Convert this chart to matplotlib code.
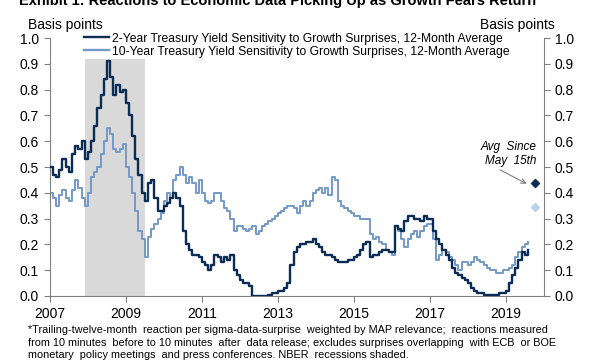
import pandas as pd
import matplotlib.pyplot as plt

plt.rcParams['font.family'] = ['Liberation Sans', 'DejaVu Sans']

# 月度数据，2007年1月起
months = pd.date_range('2007-01-01', periods=152, freq='MS')

sens_2y = [
    0.50, 0.47, 0.46, 0.49, 0.53, 0.50, 0.48, 0.55, 0.58, 0.57, 0.60, 0.53,  # 2007
    0.56, 0.60, 0.66, 0.73, 0.78, 0.84, 0.91, 0.85, 0.78, 0.82, 0.79, 0.80,  # 2008
    0.75, 0.70, 0.62, 0.53, 0.47, 0.40, 0.37, 0.44, 0.45, 0.38, 0.33, 0.33,  # 2009
    0.35, 0.36, 0.38, 0.40, 0.38, 0.35, 0.25, 0.20, 0.18, 0.16, 0.16, 0.15,  # 2010
    0.13, 0.12, 0.10, 0.12, 0.16, 0.15, 0.13, 0.15, 0.14, 0.16, 0.10, 0.08,  # 2011
    0.06, 0.05, 0.05, 0.04, 0.00, 0.00, 0.00, 0.00, 0.00, 0.005, 0.01, 0.01,  # 2012
    0.02, 0.02, 0.03, 0.05, 0.12, 0.17, 0.19, 0.20, 0.20, 0.21, 0.21, 0.22,  # 2013
    0.20, 0.19, 0.17, 0.16, 0.16, 0.15, 0.14, 0.13, 0.13, 0.13, 0.14, 0.14,  # 2014
    0.15, 0.16, 0.18, 0.20, 0.21, 0.15, 0.16, 0.16, 0.17, 0.18, 0.18, 0.17,  # 2015
    0.17, 0.27, 0.26, 0.25, 0.29, 0.31, 0.31, 0.30, 0.30, 0.29, 0.31, 0.30,  # 2016
    0.30, 0.25, 0.22, 0.20, 0.18, 0.16, 0.14, 0.11, 0.09, 0.08, 0.07, 0.06,  # 2017
    0.05, 0.03, 0.02, 0.01, 0.01, 0.005, 0.005, 0.005, 0.005, 0.005, 0.01, 0.01,  # 2018
    0.02, 0.05, 0.08, 0.11, 0.14, 0.17, 0.16, 0.18,  # 2019
]

sens_10y = [
    0.40, 0.38, 0.35, 0.39, 0.41, 0.38, 0.37, 0.41, 0.45, 0.42, 0.38, 0.35,  # 2007
    0.40, 0.46, 0.48, 0.50, 0.55, 0.60, 0.65, 0.63, 0.57, 0.56, 0.57, 0.59,  # 2008
    0.50, 0.46, 0.40, 0.33, 0.25, 0.22, 0.15, 0.23, 0.26, 0.28, 0.30, 0.32,  # 2009
    0.37, 0.40, 0.38, 0.45, 0.47, 0.50, 0.47, 0.44, 0.46, 0.44, 0.40, 0.45,  # 2010
    0.40, 0.37, 0.36, 0.37, 0.40, 0.40, 0.37, 0.34, 0.33, 0.30, 0.25, 0.27,  # 2011
    0.27, 0.26, 0.25, 0.26, 0.27, 0.24, 0.25, 0.27, 0.28, 0.29, 0.30, 0.31,  # 2012
    0.32, 0.33, 0.34, 0.35, 0.35, 0.34, 0.32, 0.35, 0.37, 0.35, 0.37, 0.40,  # 2013
    0.41, 0.42, 0.40, 0.42, 0.39, 0.46, 0.45, 0.37, 0.35, 0.34, 0.33, 0.32,  # 2014
    0.31, 0.31, 0.30, 0.30, 0.30, 0.24, 0.22, 0.23, 0.21, 0.20, 0.18, 0.17,  # 2015
    0.16, 0.27, 0.25, 0.22, 0.19, 0.22, 0.24, 0.25, 0.23, 0.25, 0.27, 0.28,  # 2016
    0.28, 0.22, 0.14, 0.16, 0.18, 0.17, 0.15, 0.14, 0.12, 0.10, 0.13, 0.13,  # 2017
    0.12, 0.13, 0.15, 0.14, 0.13, 0.12, 0.11, 0.10, 0.10, 0.09, 0.09, 0.10,  # 2018
    0.10, 0.11, 0.12, 0.15, 0.17, 0.19, 0.20, 0.21,  # 2019
]

# 5月15日以来的平均值
avg_date = pd.Timestamp('2019-10-08')
avg_2y = 0.44
avg_10y = 0.345

# NBER 衰退期
recession_start = pd.Timestamp('2007-12-01')
recession_end = pd.Timestamp('2009-06-30')

tick_years = [2007, 2009, 2011, 2013, 2015, 2017, 2019]

label_2y = '2-Year Treasury Yield Sensitivity to Growth Surprises, 12-Month Average'
label_10y = '10-Year Treasury Yield Sensitivity to Growth Surprises, 12-Month Average'
title = 'Exhibit 1: Reactions to Economic Data Picking Up as Growth Fears Return'
footnote = ('*Trailing-twelve-month  reaction per sigma-data-surprise  weighted by MAP relevance;  reactions measured\n'
            'from 10 minutes  before to 10 minutes  after  data release; excludes surprises overlapping  with ECB  or BOE\n'
            'monetary  policy meetings  and press conferences. NBER  recessions shaded.')

dark = '#0b2c54'
light = '#7399c8'
grey = '#808080'

fig = plt.figure(figsize=(5.9, 3.6), dpi=100)
ax = fig.add_axes([0.0847, 0.178, 0.837, 0.716])

ax.axvspan(recession_start, recession_end, ymin=0, ymax=0.92, color='#d9d9d9', lw=0, zorder=0)
ax.plot(months, sens_10y, drawstyle='steps-post', color=light, lw=1.4, zorder=2)
ax.plot(months, sens_2y, drawstyle='steps-post', color=dark, lw=1.7, zorder=3)
ax.plot([avg_date], [avg_2y], marker='D', ms=4.5, color=dark, ls='none')
ax.plot([avg_date], [avg_10y], marker='D', ms=4.5, color='#b9d1ea', ls='none')

ax.set_xlim(pd.Timestamp('2007-01-01'), pd.Timestamp('2020-01-01'))
ax.set_ylim(0, 1.0)
ax.set_xticks([pd.Timestamp(f'{y}-01-01') for y in tick_years])
ax.set_xticklabels([str(y) for y in tick_years])
yticks = [i / 10 for i in range(11)]
ax.set_yticks(yticks)
ax.set_yticklabels([f'{v:.1f}' for v in yticks])

for side in ['left', 'right', 'bottom']:
    ax.spines[side].set_color(grey)
    ax.spines[side].set_linewidth(0.8)
ax.spines['top'].set_visible(False)
ax.tick_params(axis='both', colors=grey, labelcolor='black', labelsize=10, length=4, width=0.8)
ax.tick_params(axis='y', right=True, labelright=True, pad=4)
ax.tick_params(axis='x', pad=4)

# 图例
h1, = ax.plot([], [], color=dark, lw=1.7)
h2, = ax.plot([], [], color=light, lw=1.7)
ax.legend([h1, h2], [label_2y, label_10y], loc='upper left', bbox_to_anchor=(0.06, 1.04),
          frameon=False, fontsize=8.7, handlelength=2.0, handletextpad=0.25, labelspacing=0.08,
          borderaxespad=0)

fig.text(0.047, 0.93, 'Basis points', fontsize=10, va='center')
fig.text(0.94, 0.93, 'Basis points', fontsize=10, ha='right', va='center')
fig.text(0.033, 0.986, title, fontsize=10.5, fontweight='bold', va='baseline')

ax.annotate('Avg  Since\nMay  15th', xy=(pd.Timestamp('2019-07-20'), 0.435),
            xytext=(pd.Timestamp('2019-10-25'), 0.55), ha='right', va='center',
            fontsize=8.5, style='italic', linespacing=1.2,
            arrowprops=dict(arrowstyle='->', color=grey, lw=0.8, shrinkA=0, shrinkB=0,
                            relpos=(0.25, 0.0)))

fig.text(0.047, 0.098, footnote, fontsize=7.8, va='top', linespacing=1.35)

fig.savefig('out.png', dpi=100)
